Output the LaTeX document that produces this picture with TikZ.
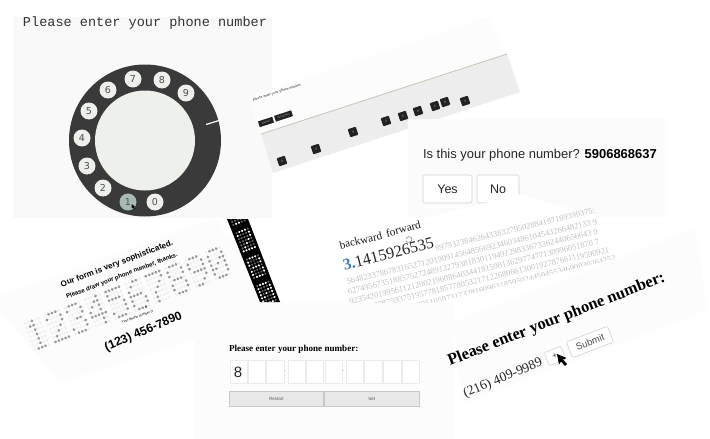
\documentclass[tikz,border=0pt]{standalone}
\usepackage{fontspec}
\setmainfont{Liberation Serif}
\setsansfont{Liberation Sans}
\setmonofont{Liberation Mono}
\newfontfamily\djv{DejaVu Sans}
\newcommand{\fsz}[1]{\fontsize{#1}{#1}\selectfont}
\definecolor{dialdark}{HTML}{3A3A3A}
\definecolor{dialface}{HTML}{EEF0EC}
\definecolor{dialhit}{HTML}{A8BAB4}
\definecolor{bandgrey}{HTML}{EDEDED}
\definecolor{bandline}{HTML}{C8C4B4}
\definecolor{keyblack}{HTML}{222222}
\definecolor{pigrey}{HTML}{BDC1C6}
\definecolor{piblue}{HTML}{3E7FB5}
\definecolor{boxline}{HTML}{EBEBEB}
\definecolor{btnfill}{HTML}{E8E8E8}
\definecolor{btnline}{HTML}{C8C8C8}
\tikzset{
  txt/.style={inner sep=0pt,outer sep=0pt},
  dialhole/.style={circle,fill=dialface,minimum size=17pt,inner sep=0pt,font=\djv\fsz{9.5},text=black!70},
  keysq/.style={fill=keyblack,rounded corners=0.8pt,minimum size=8.5pt,inner sep=0pt,text=white!70!black,font=\sffamily\fsz{3}},
  keybtn/.style={fill=keyblack,minimum height=6pt,inner sep=0pt,text=white!70!black,font=\sffamily\fsz{2.5}},
  digitbox/.style={draw=boxline,fill=white,line width=.6pt,minimum height=23pt,inner sep=0pt},
  greybtn/.style={draw=btnline,fill=btnfill,line width=.6pt,minimum height=15pt,inner sep=0pt,font=\sffamily\fsz{4.5},text=black!65},
  roundbtn/.style={draw=black!18,fill=white,rounded corners=2pt,line width=.6pt,inner sep=0pt},
  pidigits/.style={txt,anchor=base west,rotate=13.5,text=pigrey,font=\fsz{8.5}},
}
\def\dA{4,12,4,4,4,4,14}
\def\dB{14,17,1,2,4,8,31}
\def\dC{14,17,1,6,1,17,14}
\def\dD{2,6,10,18,31,2,2}
\def\dE{31,16,30,1,1,17,14}
\def\dF{6,8,16,30,17,17,14}
\def\dG{31,1,2,4,8,8,8}
\def\dH{14,17,17,14,17,17,14}
\def\dI{14,17,17,15,1,2,12}
\def\dO{14,17,19,21,25,17,14}
% #1 x, #2 y, #3 bitmap, #4 pitch x, #5 pitch y, #6 lit radius, #7 lit, #8 unlit
\newcommand{\mxdigit}[8]{%
  \edef\mxlist{#3}%
  \foreach \rw [count=\ry from -3] in \mxlist {%
    \foreach \cl in {0,...,4} {%
      \pgfmathtruncatemacro\bitv{mod(floor(\rw/2^\cl),2)}%
      \ifnum\bitv=1\relax
        \fill[#7] ({#1+(2-\cl)*#4},{#2+\ry*#5}) circle (#6);
      \else
        \fill[#8] ({#1+(2-\cl)*#4},{#2+\ry*#5}) circle (#6);
      \fi
    }%
  }%
}
\begin{document}
\begin{tikzpicture}[x=1pt,y=-1pt]
\useasboundingbox (0,0) rectangle (710,439);
\fill[white] (0,0) rectangle (710,439);

% --- panel 5: dot-matrix form
\fill[black!1] (-10,300) -- (215,218) -- (283,302) -- (195,340) -- (60,382) -- cycle;
\node[txt,rotate=20.7,font=\sffamily\bfseries\fsz{8.1}] (soph) at (117,264) {Our form is very sophisticated.};
\node[txt,rotate=21,font=\sffamily\bfseries\fsz{6.1}] (draw) at (122,276) {Please draw your phone number, thanks.};
\node[txt,rotate=20,font=\sffamily\fsz{3.4}] (yourno) at (137.5,317) {Your phone number is};
\node[txt,rotate=23,font=\sffamily\bfseries\fsz{12.1}] (num123) at (143.5,332) {(123) 456-7890};
\begin{scope}[shift={(37,334)},rotate=21.4]
  \foreach \dg [count=\ii from 0] in {\dA,\dB,\dC,\dD,\dE,\dF,\dG,\dH,\dI,\dO} {
    \pgfmathsetmacro\xd{\ii*21.6}
    \mxdigit{\xd}{0}{\dg}{3.6}{4.7}{1.55pt}{black!40}{black!6}
  }
\end{scope}
% dark strip
\fill[black] (227,219) -- (248,219) -- (280,302) -- (260,302) -- cycle;
\begin{scope}
  \clip (227,219) -- (248,219) -- (280,302) -- (260,302) -- cycle;
  \begin{scope}[shift={(235.3,213.5)},rotate=21.4]
    \mxdigit{0}{0}{\dI}{3}{3.3}{1.2pt}{white}{black!62}
    \mxdigit{0}{28.5}{\dB}{3}{3.3}{1.2pt}{white}{black!62}
    \mxdigit{0}{57}{\dH}{3}{3.3}{1.2pt}{white}{black!62}
    \mxdigit{0}{85.5}{\dO}{3}{3.3}{1.2pt}{white}{black!62}
  \end{scope}
\end{scope}
\fill[black!75] (146,307) circle (.9pt);

% --- panel 1: rotary dial
\fill[black!2.5] (13,17) rectangle (272,218);
\node[txt,anchor=base west,font=\ttfamily\fsz{13.55},text=black!80] (title1) at (23,26) {Please enter your phone number};
\node[circle,fill=dialdark,minimum size=152pt,inner sep=0pt] (dial) at (145,140.5) {};
\node[circle,fill=dialface,minimum size=100pt,inner sep=0pt] (face) at (145,140.5) {};
\node[dialhole] (h7) at (133,79) {7};
\node[dialhole] (h8) at (162,80) {8};
\node[dialhole] (h9) at (186,93) {9};
\node[dialhole] (h6) at (108,90) {6};
\node[dialhole] (h5) at (89,111) {5};
\node[dialhole] (h4) at (82,138) {4};
\node[dialhole] (h3) at (87,166) {3};
\node[dialhole] (h2) at (103,188) {2};
\node[dialhole,fill=dialhit] (h1) at (128,202) {1};
\node[dialhole] (h0) at (155,202) {0};
\coordinate (stopa) at (206,124.5);
\coordinate (stopb) at (219,120.5);
\draw[white,line width=1.2pt] (stopa) -- (stopb);
\fill[black] (131.5,204) -- (131.8,208.5) -- (132.9,207.4) -- (134.2,209) -- (134.9,208.3) -- (133.6,206.9) -- (135,206.5) -- cycle;

% --- panel 2: tilted keys
\fill[black!1] (248,97) -- (487,17) -- (507,55) -- (261,134) -- cycle;
\fill[bandgrey] (261,134) -- (507,54) -- (520,92) -- (273,173) -- cycle;
\coordinate (banda) at (261,134);
\coordinate (bandb) at (507,54);
\draw[bandline,line width=.8pt] (banda) -- (bandb);
\node[txt,rotate=17.7,font=\fsz{3.9},text=black!85] (t2) at (277,92.5) {Please enter your phone number};
\node[keybtn,rotate=18,minimum width=15pt] (rb1) at (266,122) {Restart};
\node[keybtn,rotate=18,minimum width=18pt] (rb2) at (283.5,116) {Set number};

% --- panel 3: confirmation
\fill[black!1.5] (408,119) rectangle (665,218);
\foreach \nm/\xx/\yy/\lb in {k1/282/161/8,k2/316/149/5,k3/353/132/9,k4/386/121/0,k5/403/116/6,k6/418/111/8,k7/435/106/6,k8/445/102/8,k9/465/101/3}{
  \node[keysq,rotate=18] (\nm) at (\xx,\yy) {\lb};
}
\node[txt,anchor=base west,font=\sffamily\fsz{12.95},text=black!85] (q3) at (423,158) {Is this your phone number? \textbf{\textcolor{black}{5906868637}}};
\node[roundbtn,minimum width=49pt,minimum height=28pt,font=\sffamily\fsz{12.5},text=black!85] (yes) at (447.5,189) {Yes};
\node[roundbtn,minimum width=42pt,minimum height=28pt,font=\sffamily\fsz{12.5},text=black!85] (no) at (498,189) {No};

% --- panel 4: digits of pi
\fill[white] (325,243) -- (477,205) -- (519,195) -- (605,218) -- (660,218) -- (660,300) -- (350,370) -- cycle;
\node[txt,anchor=base west,rotate=13.5,font=\fsz{11.2},text=black!90] (back) at (340.5,249) {backward};
\node[txt,anchor=base west,rotate=14,font=\fsz{11.2},text=black!90] (fwd) at (387,237) {forward};
\node[txt,anchor=base west,rotate=14.2,font=\fsz{16.2},text=black!85] (bigpi) at (344.5,270) {\textcolor{piblue}{\textbf{3.}}1415926535};
\node[pidigits] (p1) at (436,251) {89793238462643383279502884197169399375:};
\node[pidigits] (p2) at (347.5,284.5) {56482337867831652712019091456485669234603486104543266482133 9};
\node[pidigits] (p3) at (348.5,294) {62749567351885752724891227938183011949129833673362440656643 0};
\node[pidigits] (p4) at (350,304) {92354201995611212902196086403441815981362977477130996051870 7};
\node[pidigits] (p5) at (354,313.5) {88235378759375195778185778053217122680661300192787661119590921};
\node[pidigits] (p6) at (360,322) {99999837297804995105973173281609631859502445945534690830264252};
\draw[black!55,line width=.5pt] (406,239) .. controls (407,236) and (411,236) .. (412,239) .. controls (412,243) and (407,243) .. (406,241);

% --- panel 6 background, then panel 7
\fill[white] (430,304) -- (610,260) -- (710,250) -- (710,439) -- (430,439) -- cycle;
\fill[black!1] (453,322) -- (610,262) -- (695,228) -- (707,310) -- (463,403) -- cycle;
\fill[black!1] (195,303) rectangle (453,439);
\node[txt,anchor=base west,font=\bfseries\fsz{9.1},text=black] (t7) at (229,351) {Please enter your phone number:};
\foreach \nm/\xa/\bw in {b1/229.5/17,b2/247.7/17,b3/266/18,b4/287.5/17.5,b5/306/17,b6/324.5/17.5,b7/345.5/17.5,b8/364/18,b9/383/18,b10/401.5/17.5}{
  \node[digitbox,anchor=north west,minimum width=\bw pt] (\nm) at (\xa,360) {};
}
\node[txt,font=\sffamily\fsz{15},text=black!85] (eight) at (238,372) {8};
\node[txt,font=\sffamily\fsz{5},text=black!50] (d1) at (285,371.5) {-};
\node[txt,font=\sffamily\fsz{5},text=black!50] (d2) at (343,371.5) {-};
\node[greybtn,anchor=north west,minimum width=94pt] (restart) at (229,391) {Restart};
\node[greybtn,anchor=north west,minimum width=95pt] (setb) at (324,391) {Set};

% --- panel 6: typed phone number
\node[txt,rotate=21.4,font=\bfseries\fsz{16.3},text=black] (t6) at (556.5,320) {Please enter your phone number:};
\node[txt,rotate=22.6,font=\fsz{13.5},text=black!85] (ph6) at (503,378.5) {(216) 409-9989};
\node[roundbtn,rotate=21,minimum width=18pt,minimum height=14pt,font=\sffamily\fsz{9},text=black!70] (plus) at (555,356) {+};
\node[roundbtn,rotate=21,minimum width=44pt,minimum height=17pt,font=\sffamily\fsz{9.5},text=black!70] (submit) at (590,342) {Submit};
\fill[black] (557,354) -- (566.5,358) -- (563,359.5) -- (567,364) -- (565,366) -- (561,361.5) -- (559,364.5) -- cycle;
\end{tikzpicture}
\end{document}
